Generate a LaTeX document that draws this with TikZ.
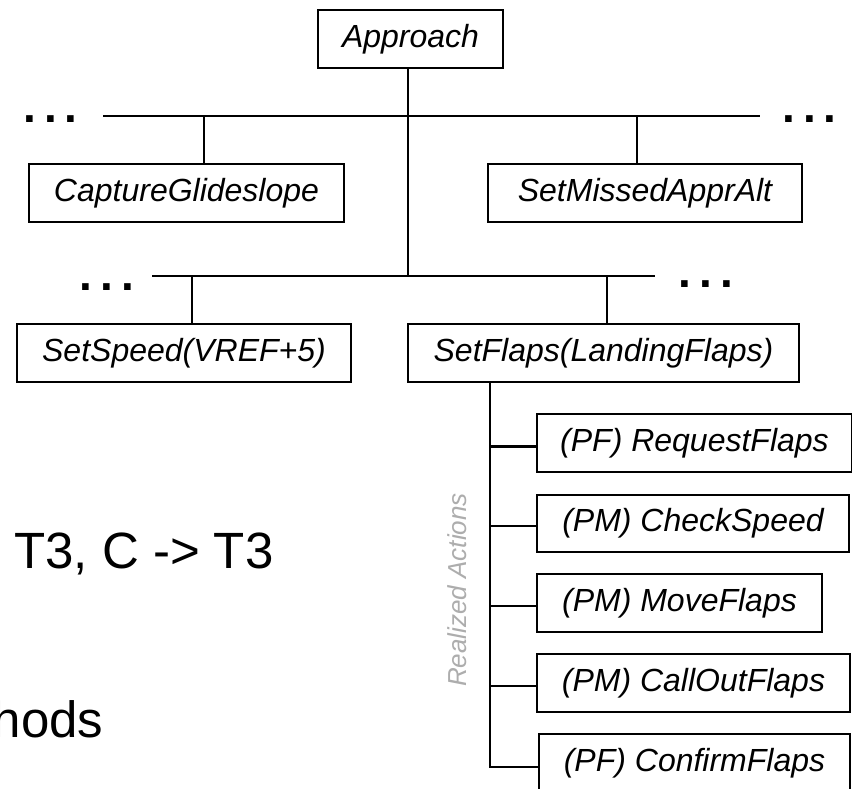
\documentclass[tikz,border=0pt]{standalone}
\usepackage{fontspec}
\setmainfont{Liberation Sans}
\newcommand\boxfont{\fontsize{32}{38}\selectfont\itshape}
\newcommand\bigfont{\fontsize{51}{58}\selectfont}
\newcommand\ellip{.\hspace{8pt}.\hspace{8pt}.}
\begin{document}
\begin{tikzpicture}[x=1pt,y=-1pt,
  box/.style={draw, line width=1.6pt, minimum height=58pt, inner sep=0pt, font=\boxfont},
  thickbox/.style={box, line width=2.8pt},
  link/.style={line width=2.2pt},
  dots/.style={font=\fontsize{46}{50}\selectfont\bfseries, inner sep=0pt, anchor=base},
  side/.style={font=\fontsize{26}{30}\selectfont\itshape, text=black!32, rotate=90, inner sep=0pt},
  bigtext/.style={font=\bigfont, inner sep=0pt}]
\useasboundingbox (0,0) rectangle (852,789);
\clip (0,0) rectangle (852,789);
\fill[white] (0,0) rectangle (852,789);

% goal hierarchy
\node[thickbox, minimum width=185pt] (approach) at (410.5,39) {Approach};
\node[box, minimum width=315pt] (capture) at (186.5,193) {CaptureGlideslope};
\node[box, minimum width=314pt] (missed) at (645,193) {SetMissedApprAlt};
\node[box, minimum width=334pt] (speed) at (184,353) {SetSpeed(VREF+5)};
\node[thickbox, minimum width=391pt] (flaps) at (603.5,353) {SetFlaps(LandingFlaps)};

% realized actions
\node[box, minimum width=315pt] (a1) at (694.5,443) {(PF) RequestFlaps};
\node[box, minimum width=312pt, minimum height=57pt] (a2) at (693,523.5) {(PM) CheckSpeed};
\node[box, minimum width=285pt] (a3) at (679.5,603) {(PM) MoveFlaps};
\node[box, minimum width=313pt] (a4) at (693.5,683) {(PM) CallOutFlaps};
\node[box, minimum width=311pt] (a5) at (694.5,763) {(PF) ConfirmFlaps};

\node[side] (realized) at (457,590) {Realized Actions};

% first level bar
\coordinate (bar1L) at (103,116);
\coordinate (bar1R) at (760,116);
\coordinate (root) at ([xshift=-2.5pt]approach.south);
\coordinate (bar2) at (root |- 0,276);
\coordinate (jc) at (204,116);
\coordinate (jm) at (637,116);
\draw[link] (bar1L) -- (bar1R);
\draw[link] (root) -- (bar2);
\draw[link] (jc) -- (jc |- capture.north);
\draw[link] (jm) -- (jm |- missed.north);

% second level bar
\coordinate (bar2L) at (152,276);
\coordinate (bar2R) at (655,276);
\coordinate (js) at (192,276);
\coordinate (jf) at (607,276);
\draw[link] (bar2L) -- (bar2R);
\draw[link] (js) -- (js |- speed.north);
\draw[link] (jf) -- (jf |- flaps.north);

% action spine
\coordinate (spine) at (490,382);
\coordinate (c1) at ([yshift=-3.5pt]a1.west);
\coordinate (c2) at ([yshift=-2.5pt]a2.west);
\coordinate (c3) at ([yshift=-3pt]a3.west);
\coordinate (c4) at ([yshift=-3pt]a4.west);
\coordinate (c5) at ([yshift=-4pt]a5.west);
\draw[link] (spine) |- (c5);
\foreach \c in {c1,c2,c3,c4}
  \draw[link] (spine |- \c) -- (\c);

% ellipses
\node[dots] (d1) at (50.5,122.5) {\ellip};
\node[dots] (d2) at (809.5,122.5) {\ellip};
\node[dots] (d3) at (107,290.5) {\ellip};
\node[dots] (d4) at (706,287.5) {\ellip};

% text from the slide behind
\node[bigtext, anchor=base west] (t3) at (14,568) {T3, C -> T3};
\node[bigtext, anchor=base east] (hods) at (103.5,737) {hods};
\end{tikzpicture}
\end{document}
